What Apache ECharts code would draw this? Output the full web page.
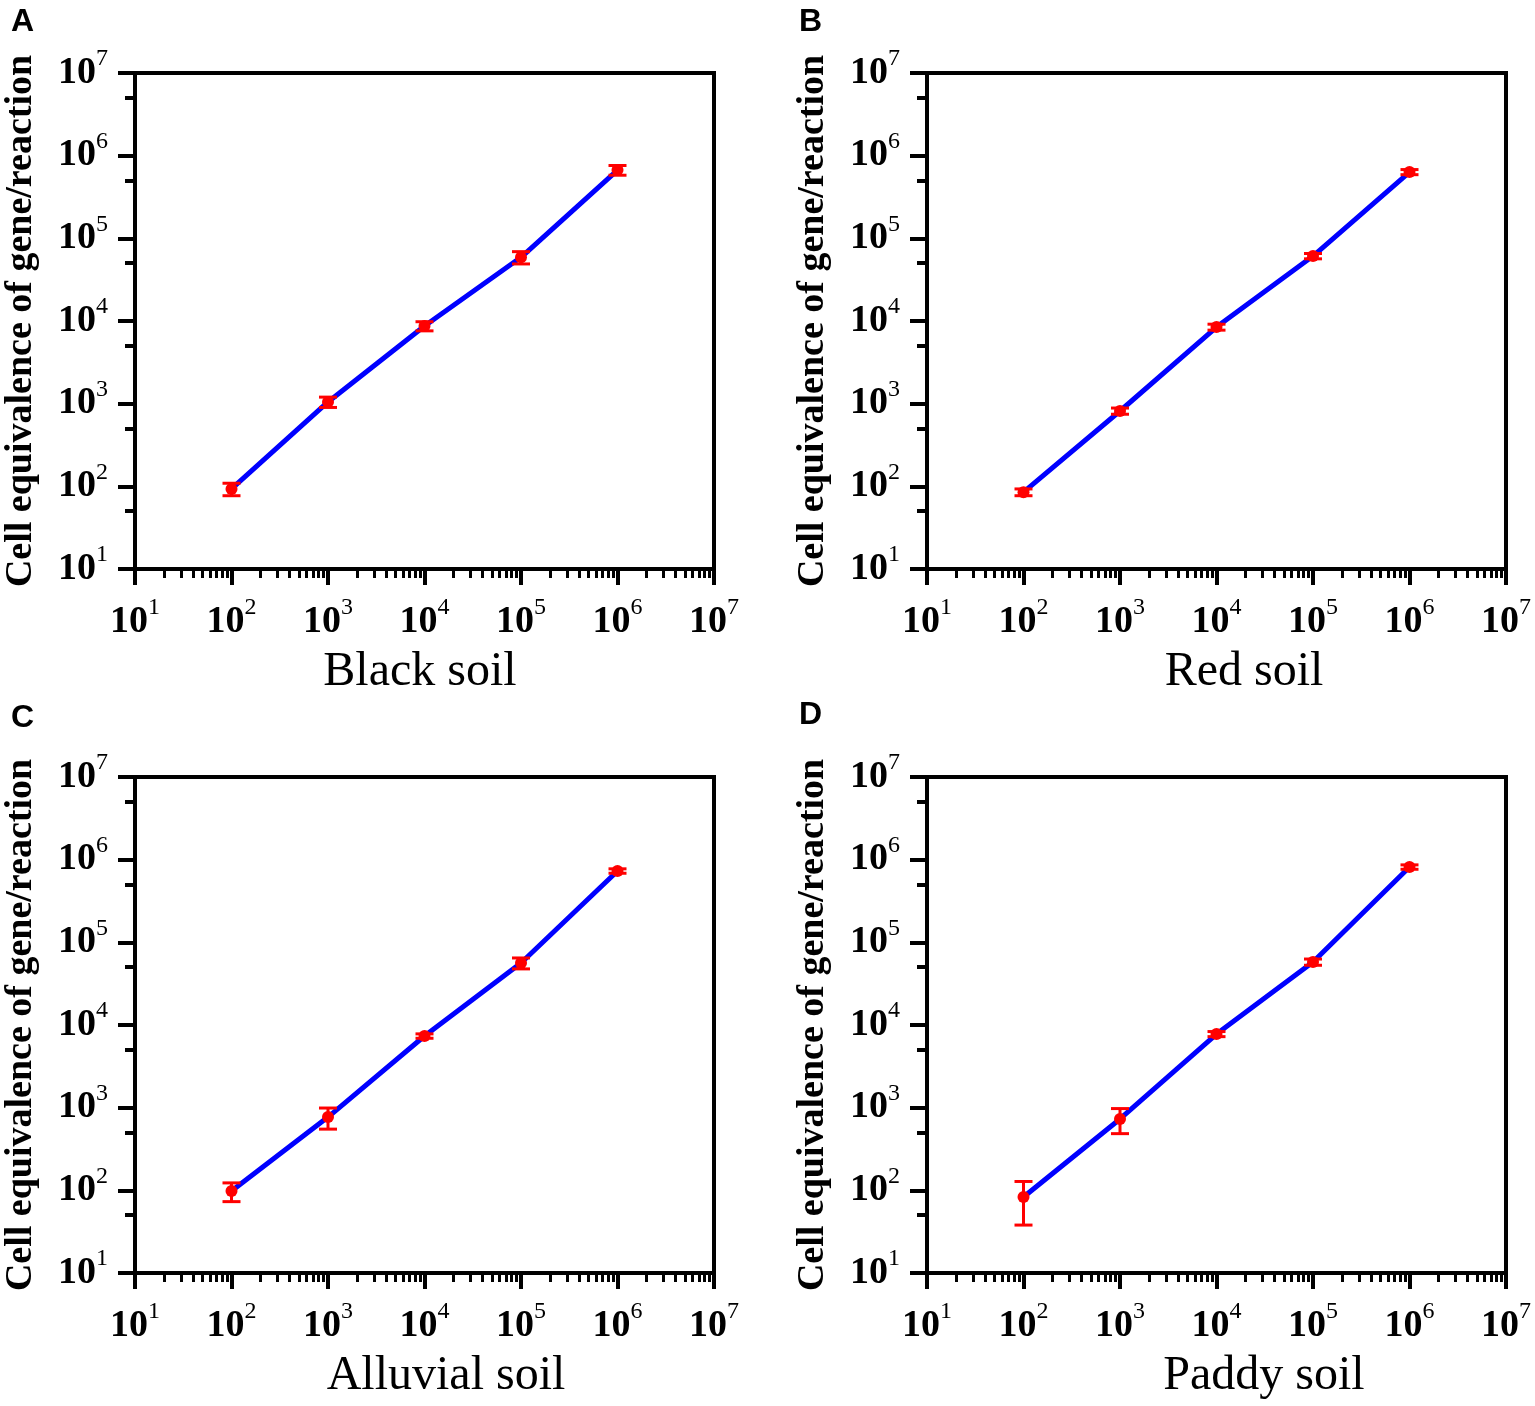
<!DOCTYPE html>
<html>
<head>
<meta charset="utf-8">
<script src="https://cdn.jsdelivr.net/npm/echarts@6/dist/echarts.min.js"></script>
<style>
html, body { margin: 0; padding: 0; background: #fff; }
#main { width: 1535px; height: 1406px; }
</style>
</head>
<body>
<div id="main"></div>
<script>
var chart = echarts.init(document.getElementById('main'));

// x positions (dilution series) shared by all panels
var xVals = [100, 1000, 10000, 100000, 1000000];

// mean and error (+/-) per soil
var blackMean = [93, 1050, 8700, 59000, 670000];
var blackErr = [16, 150, 1100, 10000, 90000];
var redMean = [85, 815, 8450, 61000, 634000];
var redErr = [8, 70, 700, 4500, 45000];
var alluvialMean = [98, 770, 7360, 56200, 730000];
var alluvialErr = [25, 220, 450, 8500, 45000];
var paddyMean = [83, 730, 7780, 57800, 815000];
var paddyErr = [45, 245, 550, 5000, 50000];

var panelLetters = ['A', 'B', 'C', 'D'];
var soilNames = ['Black soil', 'Red soil', 'Alluvial soil', 'Paddy soil'];
var yTitle = 'Cell equivalence of gene/reaction';

var means = [blackMean, redMean, alluvialMean, paddyMean];
var errs = [blackErr, redErr, alluvialErr, paddyErr];

// panel boxes
var grids = [
    {left: 135, top: 73, width: 579, height: 496},
    {left: 927, top: 73, width: 579, height: 496},
    {left: 135, top: 777, width: 579, height: 496},
    {left: 927, top: 777, width: 579, height: 496}
];
var letterPos = [[6, 1], [794, 1], [6, 697], [794, 694]];
var nameCenter = [415, 1239, 441, 1259];

// minor tick positions in log10 units
var xMinor = [], yMinor = [];
for (var n = 1; n < 7; n++) {
    for (var k = 2; k < 10; k++) xMinor.push(n + Math.log10(k));
    yMinor.push(n + Math.log10(5));
}

var serif = 'Liberation Serif, Times New Roman, serif';

function powLabel(v) {
    var e = Math.round(Math.log10(v));
    return '{b|10}{s|' + e + '}';
}
var richLabel = {
    b: {fontFamily: serif, fontWeight: 'bold', fontSize: 38, lineHeight: 52, color: '#000'},
    s: {fontFamily: serif, fontSize: 24, lineHeight: 24, verticalAlign: 'top', color: '#000'}
};

function renderErr(params, api) {
    var x = api.value(0);
    var lo = api.coord([x, api.value(1)]);
    var hi = api.coord([x, api.value(2)]);
    var w = 9;
    var st = {stroke: '#ff0000', lineWidth: 3};
    return {
        type: 'group',
        children: [
            {type: 'line', shape: {x1: hi[0], y1: hi[1], x2: lo[0], y2: lo[1]}, style: st},
            {type: 'line', shape: {x1: hi[0] - w, y1: hi[1], x2: hi[0] + w, y2: hi[1]}, style: st},
            {type: 'line', shape: {x1: lo[0] - w, y1: lo[1], x2: lo[0] + w, y2: lo[1]}, style: st}
        ]
    };
}

var option = {
    backgroundColor: '#fff',
    animation: false,
    title: [],
    grid: [],
    xAxis: [],
    yAxis: [],
    series: []
};

for (var i = 0; i < 4; i++) {
    var g = grids[i];
    option.grid.push({
        left: g.left, top: g.top, width: g.width, height: g.height,
        show: true, borderColor: '#000', borderWidth: 4, containLabel: false
    });
    option.title.push({
        text: panelLetters[i], left: letterPos[i][0], top: letterPos[i][1],
        textStyle: {fontFamily: 'Liberation Sans, Arial, sans-serif', fontWeight: 'bold', fontSize: 32, color: '#000'}
    });
    option.title.push({
        text: soilNames[i], left: nameCenter[i], top: g.top + g.height + 74, textAlign: 'center',
        textStyle: {fontFamily: serif, fontWeight: 'normal', fontSize: 48, color: '#000'}
    });

    // main log axes
    option.xAxis.push({
        type: 'log', logBase: 10, gridIndex: i, min: 10, max: 10000000, position: 'bottom',
        axisLine: {show: true, lineStyle: {color: '#000', width: 4}},
        axisTick: {show: true, inside: false, length: 16, lineStyle: {color: '#000', width: 4}},
        axisLabel: {margin: 27, formatter: powLabel, rich: richLabel},
        splitLine: {show: false}, minorTick: {show: false}
    });
    option.yAxis.push({
        type: 'log', logBase: 10, gridIndex: i, min: 10, max: 10000000, position: 'left',
        name: yTitle, nameLocation: 'middle', nameGap: 95,
        nameTextStyle: {fontFamily: serif, fontWeight: 'bold', fontSize: 38, color: '#000'},
        axisLine: {show: true, lineStyle: {color: '#000', width: 4}},
        axisTick: {show: true, inside: false, length: 17, lineStyle: {color: '#000', width: 4}},
        axisLabel: {margin: 27, formatter: powLabel, rich: richLabel},
        splitLine: {show: false}, minorTick: {show: false}
    });
    // helper axes only for the minor ticks (log10 units)
    option.xAxis.push({
        type: 'value', gridIndex: i, min: 1, max: 7, position: 'bottom',
        axisLine: {show: false}, axisLabel: {show: false}, splitLine: {show: false},
        axisTick: {show: true, inside: false, length: 9, customValues: xMinor, lineStyle: {color: '#000', width: 3}}
    });
    option.yAxis.push({
        type: 'value', gridIndex: i, min: 1, max: 7, position: 'left',
        axisLine: {show: false}, axisLabel: {show: false}, splitLine: {show: false},
        axisTick: {show: true, inside: false, length: 10, customValues: yMinor, lineStyle: {color: '#000', width: 4}}
    });

    var lineData = [], errData = [];
    for (var j = 0; j < xVals.length; j++) {
        lineData.push([xVals[j], means[i][j]]);
        errData.push([xVals[j], means[i][j] - errs[i][j], means[i][j] + errs[i][j]]);
    }
    option.series.push({
        type: 'line', xAxisIndex: i * 2, yAxisIndex: i * 2, data: lineData,
        symbol: 'circle', symbolSize: 12, showSymbol: true,
        itemStyle: {color: '#ff0000'},
        lineStyle: {color: '#0000ff', width: 5},
        z: 3
    });
    option.series.push({
        type: 'custom', xAxisIndex: i * 2, yAxisIndex: i * 2, data: errData,
        encode: {x: 0, y: [1, 2]}, renderItem: renderErr, z: 4
    });
}

chart.setOption(option);
</script>
</body>
</html>
